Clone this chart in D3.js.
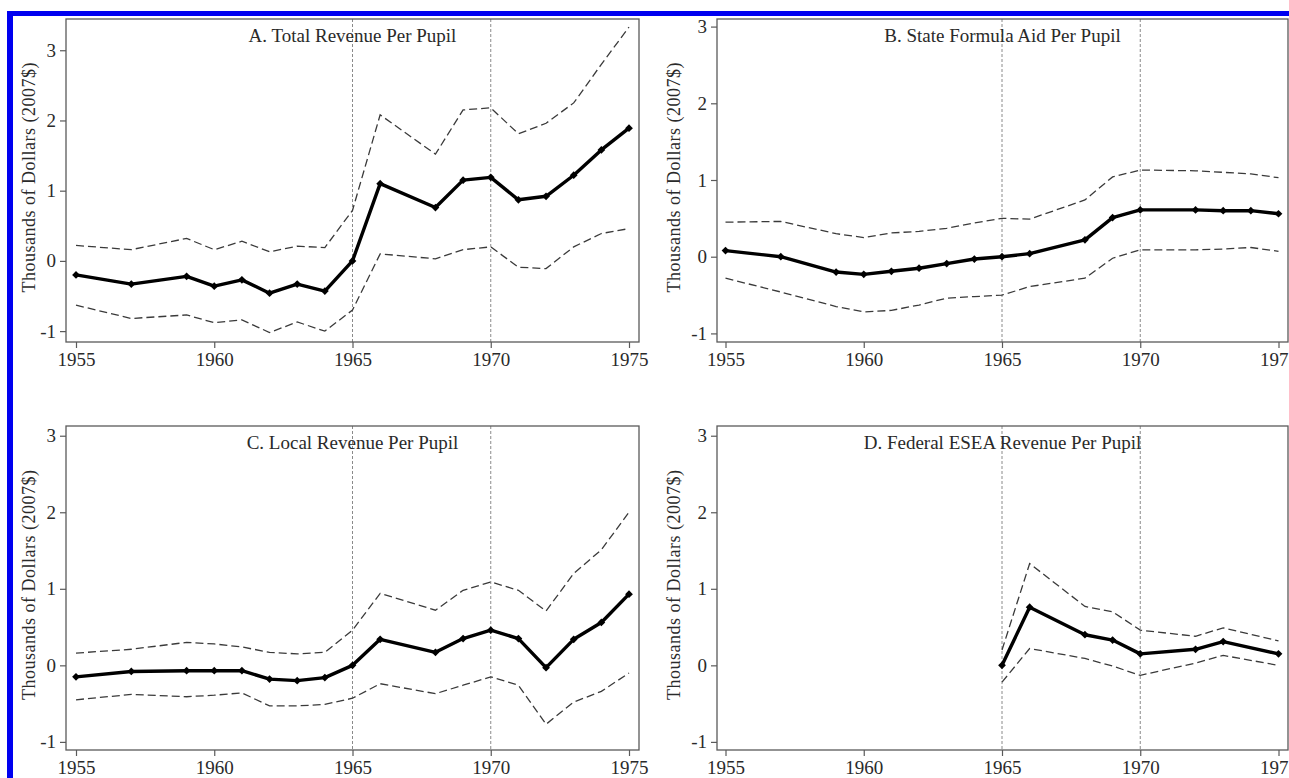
<!DOCTYPE html>
<html>
<head>
<meta charset="utf-8">
<script src="https://cdn.jsdelivr.net/npm/d3@7"></script>
<style>
  html, body { margin: 0; padding: 0; background: #fff; }
  svg { display: block; }
  text { font-family: "Liberation Serif", "DejaVu Serif", serif; fill: #2a2a2a; }
</style>
</head>
<body>
<svg id="chart" width="1289" height="778"></svg>
<script>
// ---- data (thousands of 2007 dollars) ----
const yearsA = [1955, 1957, 1959, 1960, 1961, 1962, 1963, 1964, 1965, 1966, 1968, 1969, 1970, 1971, 1972, 1973, 1974, 1975]
const estA = [-0.20, -0.33, -0.22, -0.36, -0.27, -0.46, -0.33, -0.43, 0.00, 1.10, 0.76, 1.15, 1.19, 0.87, 0.92, 1.22, 1.58, 1.89]
const hiA  = [0.22, 0.16, 0.32, 0.16, 0.28, 0.13, 0.21, 0.19, 0.72, 2.08, 1.52, 2.15, 2.18, 1.81, 1.96, 2.25, 2.80, 3.33]
const loA  = [-0.63, -0.82, -0.77, -0.88, -0.84, -1.02, -0.87, -1.00, -0.70, 0.10, 0.03, 0.16, 0.20, -0.09, -0.11, 0.20, 0.39, 0.46]

const yearsB = [1955, 1957, 1959, 1960, 1961, 1962, 1963, 1964, 1965, 1966, 1968, 1969, 1970, 1972, 1973, 1974, 1975]
const estB = [0.08, 0.00, -0.20, -0.23, -0.19, -0.15, -0.09, -0.03, 0.00, 0.04, 0.22, 0.51, 0.61, 0.61, 0.60, 0.60, 0.56]
const hiB  = [0.45, 0.46, 0.30, 0.25, 0.31, 0.33, 0.37, 0.44, 0.50, 0.49, 0.74, 1.04, 1.13, 1.12, 1.10, 1.08, 1.03]
const loB  = [-0.28, -0.46, -0.65, -0.72, -0.70, -0.63, -0.54, -0.52, -0.50, -0.39, -0.28, -0.02, 0.09, 0.09, 0.10, 0.12, 0.07]

const yearsC = [1955, 1957, 1959, 1960, 1961, 1962, 1963, 1964, 1965, 1966, 1968, 1969, 1970, 1971, 1972, 1973, 1974, 1975]
const estC = [-0.15, -0.08, -0.07, -0.07, -0.07, -0.18, -0.20, -0.16, 0.00, 0.34, 0.17, 0.35, 0.46, 0.35, -0.03, 0.34, 0.56, 0.93]
const hiC  = [0.16, 0.21, 0.30, 0.28, 0.24, 0.17, 0.15, 0.17, 0.46, 0.94, 0.72, 0.98, 1.09, 0.98, 0.71, 1.20, 1.51, 2.00]
const loC  = [-0.45, -0.38, -0.41, -0.39, -0.36, -0.53, -0.53, -0.51, -0.43, -0.24, -0.37, -0.26, -0.15, -0.26, -0.77, -0.48, -0.34, -0.10]

const yearsD = [1965, 1966, 1968, 1969, 1970, 1972, 1973, 1975]
const estD = [0.00, 0.76, 0.40, 0.33, 0.15, 0.21, 0.31, 0.15]
const hiD  = [0.20, 1.33, 0.77, 0.70, 0.46, 0.38, 0.49, 0.32]
const loD  = [-0.22, 0.22, 0.09, -0.01, -0.13, 0.03, 0.13, 0.00]

const titles = ["A. Total Revenue Per Pupil", "B. State Formula Aid Per Pupil",
                "C. Local Revenue Per Pupil", "D. Federal ESEA Revenue Per Pupil"]
const xTicks = [1955, 1960, 1965, 1970, 1975]
const yTicks = [-1, 0, 1, 2, 3]
const refYears = [1965, 1970]
const yLabel = "Thousands of Dollars (2007$)"

// ---- layout of the four panels ----
const panels = [
    { years: yearsA, est: estA, hi: hiA, lo: loA, title: titles[0],
      left: 66, right: 639, top: 19, bottom: 342, x0: 76, x1: 629, yDom: [-1.155, 3.445], labX: 35 },
    { years: yearsB, est: estB, hi: hiB, lo: loB, title: titles[1],
      left: 717, right: 1288, top: 19, bottom: 342, x0: 725.5, x1: 1278.5, yDom: [-1.112, 3.099], labX: 680 },
    { years: yearsC, est: estC, hi: hiC, lo: loC, title: titles[2],
      left: 66, right: 639, top: 426, bottom: 750, x0: 76, x1: 629, yDom: [-1.106, 3.127], labX: 35 },
    { years: yearsD, est: estD, hi: hiD, lo: loD, title: titles[3],
      left: 717, right: 1288, top: 426, bottom: 750, x0: 725.5, x1: 1278.5, yDom: [-1.106, 3.127], labX: 680 }
]

const svg = d3.select("#chart")

svg.append("rect").attr("width", 1289).attr("height", 778).attr("fill", "#fff")

panels.forEach((p) => {

    let x = d3.scaleLinear().domain([1955, 1975]).range([p.x0, p.x1])
    let y = d3.scaleLinear().domain(p.yDom).range([p.bottom, p.top])

    let g = svg.append("g")

    // reference lines at 1965 and 1970
    g.selectAll(".ref")
        .data(refYears)
        .enter().append("line")
        .attr("x1", (d) => x(d)).attr("x2", (d) => x(d))
        .attr("y1", p.top).attr("y2", p.bottom)
        .attr("stroke", "#8a8a8a")
        .attr("stroke-width", 1)
        .attr("stroke-dasharray", "3,2")

    // plot frame
    g.append("rect")
        .attr("x", p.left).attr("y", p.top)
        .attr("width", p.right - p.left).attr("height", p.bottom - p.top)
        .attr("fill", "none")
        .attr("stroke", "#5a5a5a")
        .attr("stroke-width", 1.3)

    // axes (hyphen minus like the original, not the typographic one)
    let yAxis = d3.axisLeft(y).tickValues(yTicks).tickSize(6).tickPadding(4).tickFormat((d) => String(d))
    let xAxis = d3.axisBottom(x).tickValues(xTicks).tickSize(6).tickPadding(5).tickFormat((d) => String(d))

    let ya = g.append("g").attr("transform", "translate(" + p.left + ",0)").call(yAxis)
    let xa = g.append("g").attr("transform", "translate(0," + p.bottom + ")").call(xAxis)

    ;[ya, xa].forEach((a) => {
        a.select(".domain").remove()
        a.selectAll(".tick line").attr("stroke", "#5a5a5a").attr("stroke-width", 1.2)
        a.selectAll(".tick text")
            .style("font-family", "Liberation Serif, serif")
            .style("font-size", "19px")
            .attr("fill", "#333")
    })

    // axis title
    g.append("text")
        .attr("transform", "translate(" + p.labX + "," + ((p.top + p.bottom) / 2 - 3) + ") rotate(-90)")
        .attr("text-anchor", "middle")
        .attr("textLength", 230)
        .attr("lengthAdjust", "spacing")
        .style("font-size", "18px")
        .text(yLabel)

    // panel title
    g.append("text")
        .attr("x", (p.left + p.right) / 2)
        .attr("y", p.top + 23)
        .attr("text-anchor", "middle")
        .style("font-size", "19px")
        .text(p.title)

    let rows = p.years.map((yr, i) => ({ yr: yr, est: p.est[i], hi: p.hi[i], lo: p.lo[i] }))

    // confidence bands
    ;["hi", "lo"].forEach((k) => {
        g.append("path")
            .datum(rows)
            .attr("fill", "none")
            .attr("stroke", "#3a3a3a")
            .attr("stroke-width", 1.3)
            .attr("stroke-dasharray", "8,4")
            .attr("d", d3.line().x((d) => x(d.yr)).y((d) => y(d[k])))
    })

    // point estimates
    g.append("path")
        .datum(rows)
        .attr("fill", "none")
        .attr("stroke", "#000")
        .attr("stroke-width", 3.4)
        .attr("stroke-linejoin", "round")
        .attr("d", d3.line().x((d) => x(d.yr)).y((d) => y(d.est)))

    g.selectAll(".dot")
        .data(rows)
        .enter().append("path")
        .attr("class", "dot")
        .attr("d", d3.symbol().type(d3.symbolSquare).size(30))
        .attr("transform", (d) => "translate(" + x(d.yr) + "," + y(d.est) + ") rotate(45)")
        .attr("fill", "#000")
})

// blue frame around the clipped figure
svg.append("rect").attr("x", 7).attr("y", 11).attr("width", 6).attr("height", 767).attr("fill", "#0000f0")
svg.append("rect").attr("x", 7).attr("y", 11).attr("width", 1282).attr("height", 5).attr("fill", "#0000f0")
</script>
</body>
</html>
